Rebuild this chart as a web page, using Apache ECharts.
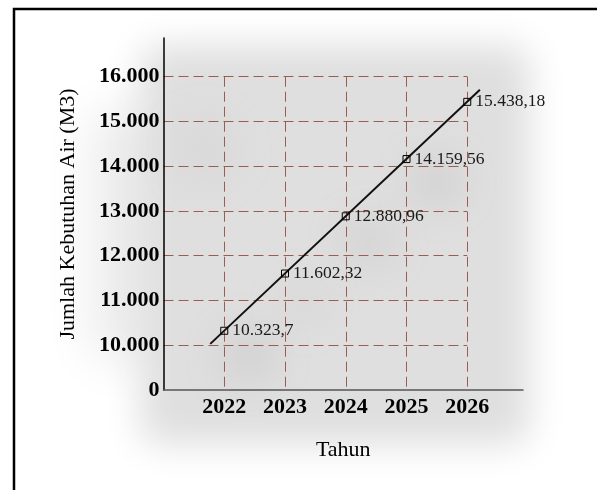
<!DOCTYPE html>
<html>
<head>
<meta charset="utf-8">
<script src="https://cdn.jsdelivr.net/npm/echarts@6/dist/echarts.min.js"></script>
<style>
  html, body { margin: 0; padding: 0; background: #ffffff; }
  #chart { width: 597px; height: 490px; }
</style>
</head>
<body>
<div id="chart"></div>
<script>
// Proyeksi kebutuhan air per tahun
const years = [2022, 2023, 2024, 2025, 2026];
const kebutuhanAir = [10323.7, 11602.32, 12880.96, 14159.56, 15438.18];

// Garis tren (titik awal dan akhir)
const trendYears = [2021.77, 2026.21];
const trendValues = [10030, 15707];

// Label sumbu
const yTickLabels = ['0', '10.000', '11.000', '12.000', '13.000', '14.000', '15.000', '16.000'];
const xTickLabels = ['2022', '2023', '2024', '2025', '2026'];

const Y_MIN = 9000, Y_MAX = 16000, Y_STEP = 1000;
const X_MIN = 2021, X_MAX = 2026;

const SERIF = '"Liberation Serif", "Times New Roman", serif';
const GRID_COLOR = '#9a5e4e';

// Format angka gaya Indonesia: titik ribuan, koma desimal
function formatID(v) {
  const parts = String(v).split('.');
  const intPart = parts[0].replace(/\B(?=(\d{3})+(?!\d))/g, '.');
  return parts[1] ? intPart + ',' + parts[1] : intPart;
}

// Bayangan lembut di belakang area plot (bentuk digeser keluar layar, hanya bayangannya yang tampak)
const OFF = 3000;
function softRect(x, y, w, h, color, blur) {
  return {
    type: 'rect', silent: true, z: -10,
    shape: { x: x - OFF, y: y, width: w, height: h, r: 20 },
    style: { fill: color, shadowColor: color, shadowBlur: blur, shadowOffsetX: OFF }
  };
}
function softBlob(cx, cy, r, color, blur) {
  return {
    type: 'circle', silent: true, z: -9,
    shape: { cx: cx - OFF, cy: cy, r: r },
    style: { fill: color, shadowColor: color, shadowBlur: blur, shadowOffsetX: OFF }
  };
}

const chart = echarts.init(document.getElementById('chart'), null, { renderer: 'canvas' });

const option = {
  backgroundColor: '#ffffff',
  animation: false,
  graphic: [
    softRect(90, 110, 85, 250, '#ececec', 50),
    softRect(140, 45, 390, 400, '#dfdfdf', 36),
    softBlob(248, 355, 28, '#d0d0d0', 40),
    softBlob(368, 242, 26, '#d2d2d2', 40),
    softBlob(436, 182, 26, '#d0d0d0', 40),
    softBlob(305, 302, 22, '#d6d6d6', 40),
    softBlob(205, 150, 30, '#d7d7d7', 45),
    {
      type: 'rect', silent: true, z: 100,
      shape: { x: 14, y: 9, width: 640, height: 540 },
      style: { fill: 'none', stroke: '#000000', lineWidth: 2.5 }
    }
  ],
  grid: [
    // area grid bergaris putus-putus
    { left: 163.5, top: 76.7, width: 303.75, height: 313.3, containLabel: false },
    // sumbu utama yang memanjang
    { left: 163.5, top: 38, width: 359.5, height: 352, containLabel: false }
  ],
  xAxis: [
    {
      gridIndex: 0, type: 'value', min: X_MIN, max: X_MAX, interval: 1,
      axisLine: { show: false }, axisTick: { show: false },
      axisLabel: {
        margin: 6, color: '#000', fontFamily: SERIF, fontSize: 22, fontWeight: 'bold',
        formatter: function (v) { const i = Math.round(v - years[0]); return xTickLabels[i] || ''; }
      },
      splitLine: { show: true, showMinLine: false, lineStyle: { color: GRID_COLOR, width: 1, type: [10, 5] } }
    },
    {
      gridIndex: 1, type: 'value', min: X_MIN, max: 2026.92,
      axisLine: { show: true, lineStyle: { color: '#555555', width: 1.5 } },
      axisTick: { show: false }, axisLabel: { show: false }, splitLine: { show: false },
      name: 'Tahun', nameLocation: 'middle', nameGap: 49,
      nameTextStyle: { color: '#000', fontFamily: SERIF, fontSize: 22 }
    }
  ],
  yAxis: [
    {
      gridIndex: 0, type: 'value', min: Y_MIN, max: Y_MAX, interval: Y_STEP,
      axisLine: { show: false }, axisTick: { show: false },
      axisLabel: {
        margin: 4, color: '#000', fontFamily: SERIF, fontSize: 22, fontWeight: 'bold',
        formatter: function (v) { const i = Math.round((v - Y_MIN) / Y_STEP); return yTickLabels[i] || ''; }
      },
      splitLine: { show: true, showMinLine: false, lineStyle: { color: GRID_COLOR, width: 1, type: [10, 5] } }
    },
    {
      gridIndex: 1, type: 'value', min: Y_MIN, max: 16864,
      axisLine: { show: true, lineStyle: { color: '#000000', width: 1.5 } },
      axisTick: { show: false }, axisLabel: { show: false }, splitLine: { show: false },
      name: 'Jumlah Kebutuhan Air (M3)', nameLocation: 'middle', nameRotate: 90, nameGap: 84,
      nameTextStyle: { color: '#000', fontFamily: SERIF, fontSize: 22 }
    }
  ],
  series: [
    {
      // garis tren pada sumbu yang lebih panjang agar tidak terpotong
      name: 'Tren', type: 'line', xAxisIndex: 1, yAxisIndex: 1, clip: false,
      data: trendYears.map((x, i) => [x, trendValues[i]]),
      showSymbol: false, symbol: 'none', z: 3,
      lineStyle: { color: '#111111', width: 2 }
    },
    {
      name: 'Kebutuhan Air', type: 'line', xAxisIndex: 0, yAxisIndex: 0, clip: false,
      data: years.map((x, i) => [x, kebutuhanAir[i]]),
      symbol: 'rect', symbolSize: 7, z: 4,
      lineStyle: { width: 0, opacity: 0 },
      itemStyle: { color: 'rgba(0,0,0,0)', borderColor: '#000000', borderWidth: 1 },
      label: {
        show: true, position: 'right', distance: 4,
        color: '#1a1a1a', fontFamily: SERIF, fontSize: 17.5,
        formatter: function (p) { return formatID(p.value[1]); }
      }
    }
  ]
};

chart.setOption(option);
</script>
</body>
</html>
